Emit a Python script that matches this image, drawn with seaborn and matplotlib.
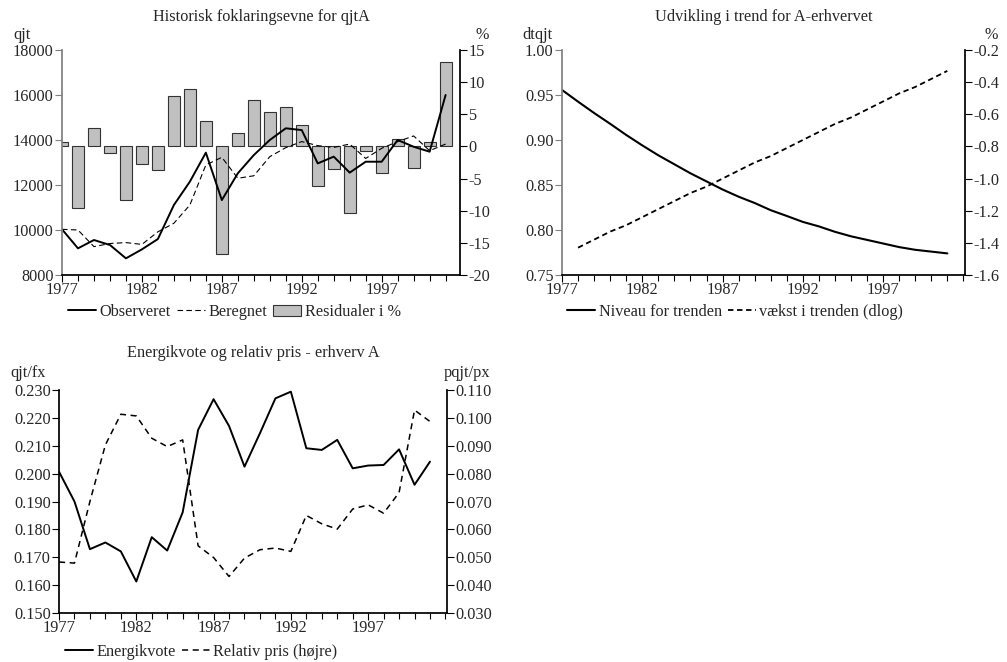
import matplotlib
matplotlib.use("Agg")
import matplotlib.pyplot as plt
import seaborn as sns
import pandas as pd
from matplotlib.lines import Line2D
from matplotlib.patches import Patch
from matplotlib.ticker import MultipleLocator, FormatStrFormatter

# --- DATA ---
YEARS = list(range(1977, 2002))

observeret = [10030, 9185, 9555, 9333, 8740, 9140, 9600, 11110, 12150, 13437,
              11330, 12520, 13330, 14000, 14520, 14440, 12960, 13260, 12550, 13035,
              13035, 14000, 13700, 13480, 16000]
beregnet = [10030, 10000, 9260, 9400, 9440, 9360, 9920, 10300, 11110, 12890,
            13230, 12300, 12410, 13260, 13660, 13930, 13750, 13670, 13820, 13180,
            13630, 13930, 14180, 13525, 13820]
residualer = [0.7, -9.5, 2.9, -1.0, -8.4, -2.8, -3.6, 7.8, 8.9, 4.0,
              -16.8, 2.1, 7.2, 5.4, 6.1, 3.4, -6.1, -3.5, -10.3, -0.7,
              -4.1, 1.2, -3.4, 0.7, 13.2]

niveau = [0.9556, 0.9426, 0.930, 0.918, 0.9056, 0.894, 0.883, 0.873, 0.863, 0.854,
          0.845, 0.837, 0.830, 0.822, 0.8156, 0.809, 0.804, 0.798, 0.793, 0.789,
          0.785, 0.781, 0.778, 0.776, 0.774]
YEARS_VAEKST = list(range(1978, 2002))
vaekst = [-1.43, -1.38, -1.33, -1.29, -1.24, -1.19, -1.14, -1.09, -1.05, -1.00,
          -0.95, -0.90, -0.86, -0.81, -0.76, -0.71, -0.66, -0.62, -0.57, -0.52,
          -0.47, -0.43, -0.38, -0.33]

energikvote = [0.2007, 0.190, 0.1729, 0.1753, 0.1721, 0.1613, 0.1772, 0.1724, 0.1861, 0.2157,
               0.2267, 0.2171, 0.2025, 0.2145, 0.2270, 0.2294, 0.2091, 0.2085, 0.2121, 0.2019,
               0.2029, 0.2031, 0.2087, 0.1960, 0.2043]
relativ_pris = [0.0483, 0.0479, 0.0700, 0.0903, 0.1013, 0.1007, 0.0927, 0.0897, 0.0921, 0.0541,
                0.0499, 0.0431, 0.0497, 0.0527, 0.0533, 0.0521, 0.0650, 0.0620, 0.0601, 0.0673,
                0.0688, 0.0658, 0.0732, 0.1028, 0.0987]

MAJOR_YEARS = [1977, 1982, 1987, 1992, 1997]

# --- STYLE ---
FS = 11.7
sns.set_theme(style="ticks")
plt.rcParams['font.family'] = ['Liberation Serif', 'DejaVu Serif']
plt.rcParams['axes.unicode_minus'] = False
plt.rcParams['font.size'] = FS

W, H = 1007, 662
fig = plt.figure(figsize=(W / 100, H / 100), dpi=100)


def px_axes(left, top, right, bottom):
    return fig.add_axes([left / W, 1 - bottom / H, (right - left) / W, (bottom - top) / H])


def style_pair(ax, ax2, xlim, ylim, ystep, yfmt, ylim2, ystep2, yfmt2, left_col):
    ax.set_xlim(*xlim)
    ax.set_ylim(*ylim)
    ax2.set_ylim(*ylim2)
    ax.set_xticks(MAJOR_YEARS)
    ax.xaxis.set_minor_locator(MultipleLocator(1))
    ax.yaxis.set_major_locator(MultipleLocator(ystep))
    ax.yaxis.set_major_formatter(FormatStrFormatter(yfmt))
    ax2.yaxis.set_major_locator(MultipleLocator(ystep2))
    ax2.yaxis.set_major_formatter(FormatStrFormatter(yfmt2))
    for a in (ax, ax2):
        a.set_xlabel("")
        a.set_ylabel("")
        a.spines['top'].set_visible(False)
        a.grid(False)
    ax.spines['left'].set_color(left_col)
    ax.spines['right'].set_visible(False)
    ax.spines['bottom'].set_color('black')
    ax2.spines['right'].set_color('black')
    ax2.spines['left'].set_visible(False)
    ax2.spines['bottom'].set_visible(False)
    ax.tick_params(axis='x', which='major', length=5, width=0.8, color='black',
                   labelsize=FS, pad=0)
    ax.tick_params(axis='x', which='minor', length=4, width=0.8, color='black')
    ax.tick_params(axis='y', length=5, width=0.8, color=left_col, labelsize=FS, pad=1)
    ax2.tick_params(axis='y', length=5, width=0.8, color='black', labelsize=FS, pad=1)
    ax.set_zorder(ax2.get_zorder() + 1)
    ax.patch.set_visible(False)


def add_legend(handles, labels, x, y):
    fig.legend(handles, labels, loc='center left', bbox_to_anchor=(x / W, 1 - y / H),
               ncol=len(handles), frameon=False, fontsize=FS, handlelength=1.75,
               handletextpad=0.2, columnspacing=0.35, borderaxespad=0, borderpad=0)


# --- Panel 1: Historisk foklaringsevne ---
ax1 = px_axes(62, 50, 460, 275)
ax1b = ax1.twinx()
sns.barplot(x=YEARS, y=residualer, native_scale=True, width=0.75, color='#c0c0c0',
            saturation=1, edgecolor='#333333', linewidth=0.8, ax=ax1b)
sns.lineplot(x=YEARS, y=observeret, color='black', linewidth=1.4, ax=ax1, legend=False)
sns.lineplot(x=YEARS, y=beregnet, color='black', linewidth=0.8, linestyle=(0, (5, 3)),
             ax=ax1, legend=False)
style_pair(ax1, ax1b, (1977, 2001.9), (8000, 18000), 2000, '%d', (-20, 15), 5, '%d', '#808080')
ax1.set_title("Historisk foklaringsevne for qjtA", fontsize=FS, pad=21)
fig.text(13 / W, 1 - 35 / H, "qjt", fontsize=FS, va='center', ha='left')
fig.text(489 / W, 1 - 35 / H, "%", fontsize=FS, va='center', ha='right')
add_legend([Line2D([], [], color='black', lw=1.4),
            Line2D([], [], color='black', lw=0.8, ls=(0, (5, 3))),
            Patch(facecolor='#c0c0c0', edgecolor='#333333', lw=0.8)],
           ["Observeret", "Beregnet", "Residualer i %"], 68, 312)

# --- Panel 2: Udvikling i trend ---
ax2 = px_axes(562, 50, 965, 275)
ax2b = ax2.twinx()
sns.lineplot(x=YEARS, y=niveau, color='black', linewidth=1.5, ax=ax2, legend=False)
sns.lineplot(x=YEARS_VAEKST, y=vaekst, color='black', linewidth=1.3, linestyle=(0, (3, 2)),
             ax=ax2b, legend=False)
style_pair(ax2, ax2b, (1977, 2002.1), (0.75, 1.00), 0.05, '%.2f', (-1.6, -0.2), 0.2, '%.1f',
           '#808080')
ax2.set_title("Udvikling i trend for A-erhvervet", fontsize=FS, pad=21)
fig.text(522 / W, 1 - 35 / H, "dtqjt", fontsize=FS, va='center', ha='left')
fig.text(998 / W, 1 - 35 / H, "%", fontsize=FS, va='center', ha='right')
add_legend([Line2D([], [], color='black', lw=1.5),
            Line2D([], [], color='black', lw=1.3, ls=(0, (3, 2)))],
           ["Niveau for trenden", "vækst i trenden (dlog)"], 567, 312)

# --- Panel 3: Energikvote og relativ pris ---
ax3 = px_axes(59, 390, 447, 613)
ax3b = ax3.twinx()
sns.lineplot(x=YEARS, y=energikvote, color='black', linewidth=1.4, ax=ax3, legend=False)
sns.lineplot(x=YEARS, y=relativ_pris, color='black', linewidth=1.1, linestyle=(0, (4, 3)),
             ax=ax3b, legend=False)
style_pair(ax3, ax3b, (1977, 2002.1), (0.150, 0.230), 0.010, '%.3f', (0.030, 0.110), 0.010,
           '%.3f', 'black')
ax3.set_title("Energikvote og relativ pris - erhverv A", fontsize=FS, pad=24)
fig.text(10 / W, 1 - 373 / H, "qjt/fx", fontsize=FS, va='center', ha='left')
fig.text(490 / W, 1 - 373 / H, "pqjt/px", fontsize=FS, va='center', ha='right')
add_legend([Line2D([], [], color='black', lw=1.4),
            Line2D([], [], color='black', lw=1.1, ls=(0, (4, 3)))],
           ["Energikvote", "Relativ pris (højre)"], 65, 652)

fig.savefig("out.png", dpi=100)
